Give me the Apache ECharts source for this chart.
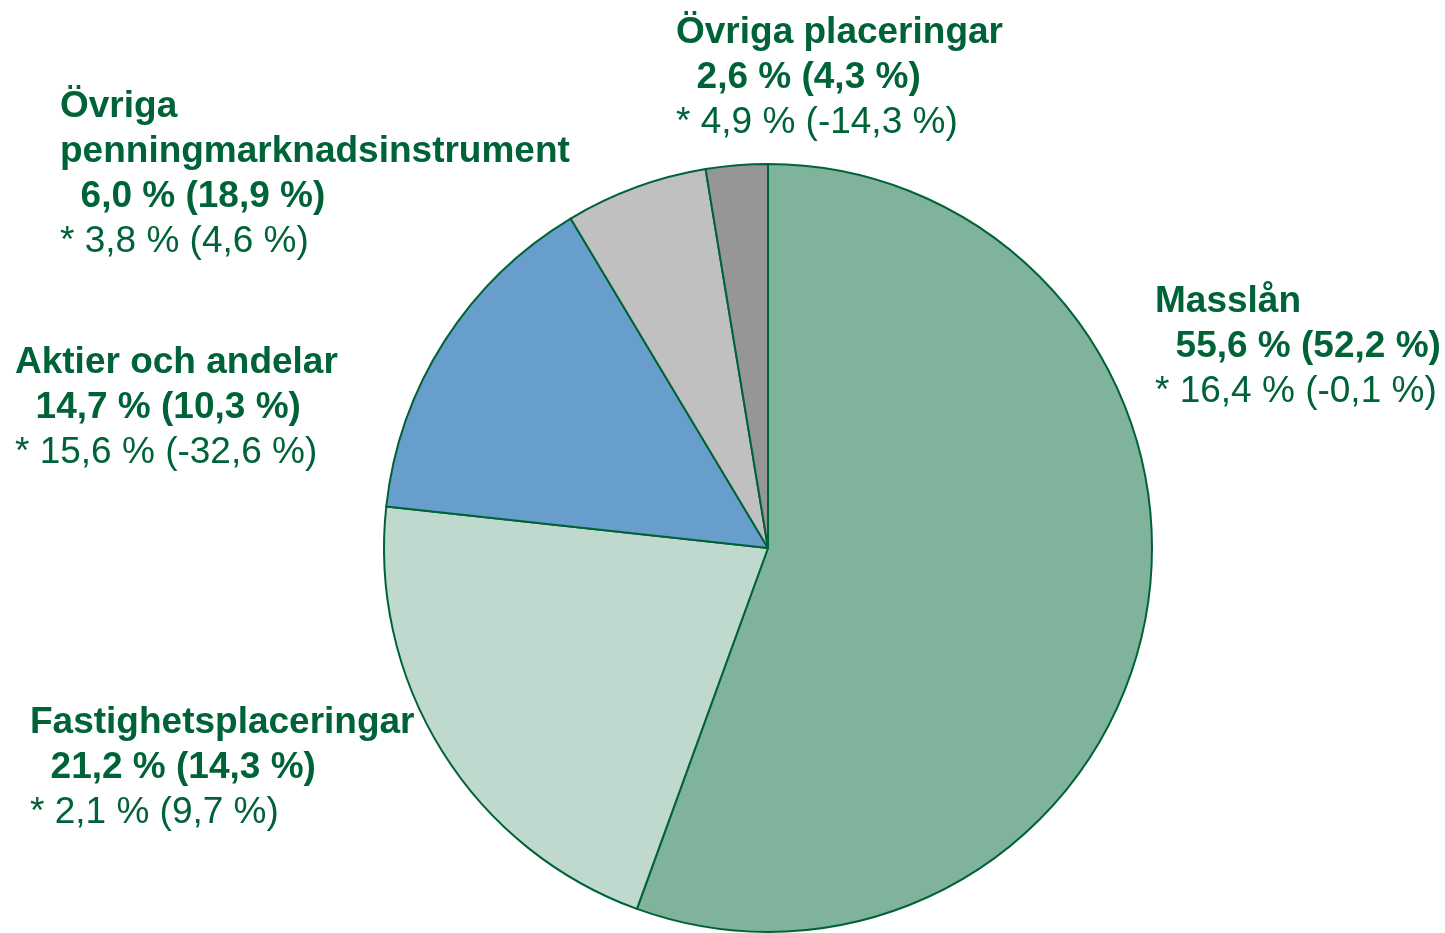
<!DOCTYPE html>
<html>
<head>
<meta charset="utf-8">
<script src="https://cdn.jsdelivr.net/npm/echarts@6/dist/echarts.min.js"></script>
<style>
html,body{margin:0;padding:0;background:#fff;}
#chart{width:1445px;height:933px;}
</style>
</head>
<body>
<div id="chart"></div>
<script>
const categories = ['Masslån', 'Fastighetsplaceringar', 'Aktier och andelar', 'Övriga penningmarknadsinstrument', 'Övriga placeringar'];
const labelNames = [['Masslån'], ['Fastighetsplaceringar'], ['Aktier och andelar'], ['Övriga', 'penningmarknadsinstrument'], ['Övriga placeringar']];
const shares = [55.6, 21.2, 14.7, 6.0, 2.6];
const prevShares = [52.2, 14.3, 10.3, 18.9, 4.3];
const returns = [16.4, 2.1, 15.6, 3.8, 4.9];
const prevReturns = [-0.1, 9.7, -32.6, 4.6, -14.3];
const colors = ['#80B39C', '#BFD9CE', '#679ECB', '#C0C0C0', '#969696'];

// label anchor (left x, centre y of first line)
const labelPos = [[1155, 302], [30, 723], [15, 363], [60, 107], [676, 33]];

const TXT = '#006338';
const FONT = '"Liberation Sans", Arial, sans-serif';
const fmt = v => v.toFixed(1).replace('.', ',');

const graphics = categories.map((c, i) => {
  const lines = labelNames[i].map(n => '{b|' + n + '}');
  lines.push('{b|  ' + fmt(shares[i]) + ' % (' + fmt(prevShares[i]) + ' %)}');
  lines.push('{n|* ' + fmt(returns[i]) + ' % (' + fmt(prevReturns[i]) + ' %)}');
  return {
    type: 'text',
    x: labelPos[i][0],
    y: labelPos[i][1] - 22.5,
    style: {
      text: lines.join('\n'),
      fill: TXT,
      align: 'left',
      verticalAlign: 'top',
      rich: {
        b: {fontFamily: FONT, fontWeight: 'bold', fontSize: 37, lineHeight: 45, fill: TXT, color: TXT},
        n: {fontFamily: FONT, fontWeight: 'normal', fontSize: 37, lineHeight: 45, fill: TXT, color: TXT}
      }
    }
  };
});

const chart = echarts.init(document.getElementById('chart'), null, {renderer: 'canvas'});
chart.setOption({
  animation: false,
  backgroundColor: '#ffffff',
  graphic: graphics,
  series: [{
    type: 'pie',
    center: [768, 548],
    radius: 384,
    startAngle: 90,
    clockwise: true,
    label: {show: false},
    labelLine: {show: false},
    emphasis: {disabled: true},
    itemStyle: {borderColor: '#006338', borderWidth: 2},
    data: categories.map((c, i) => ({name: c, value: shares[i], itemStyle: {color: colors[i]}}))
  }]
});
</script>
</body>
</html>
